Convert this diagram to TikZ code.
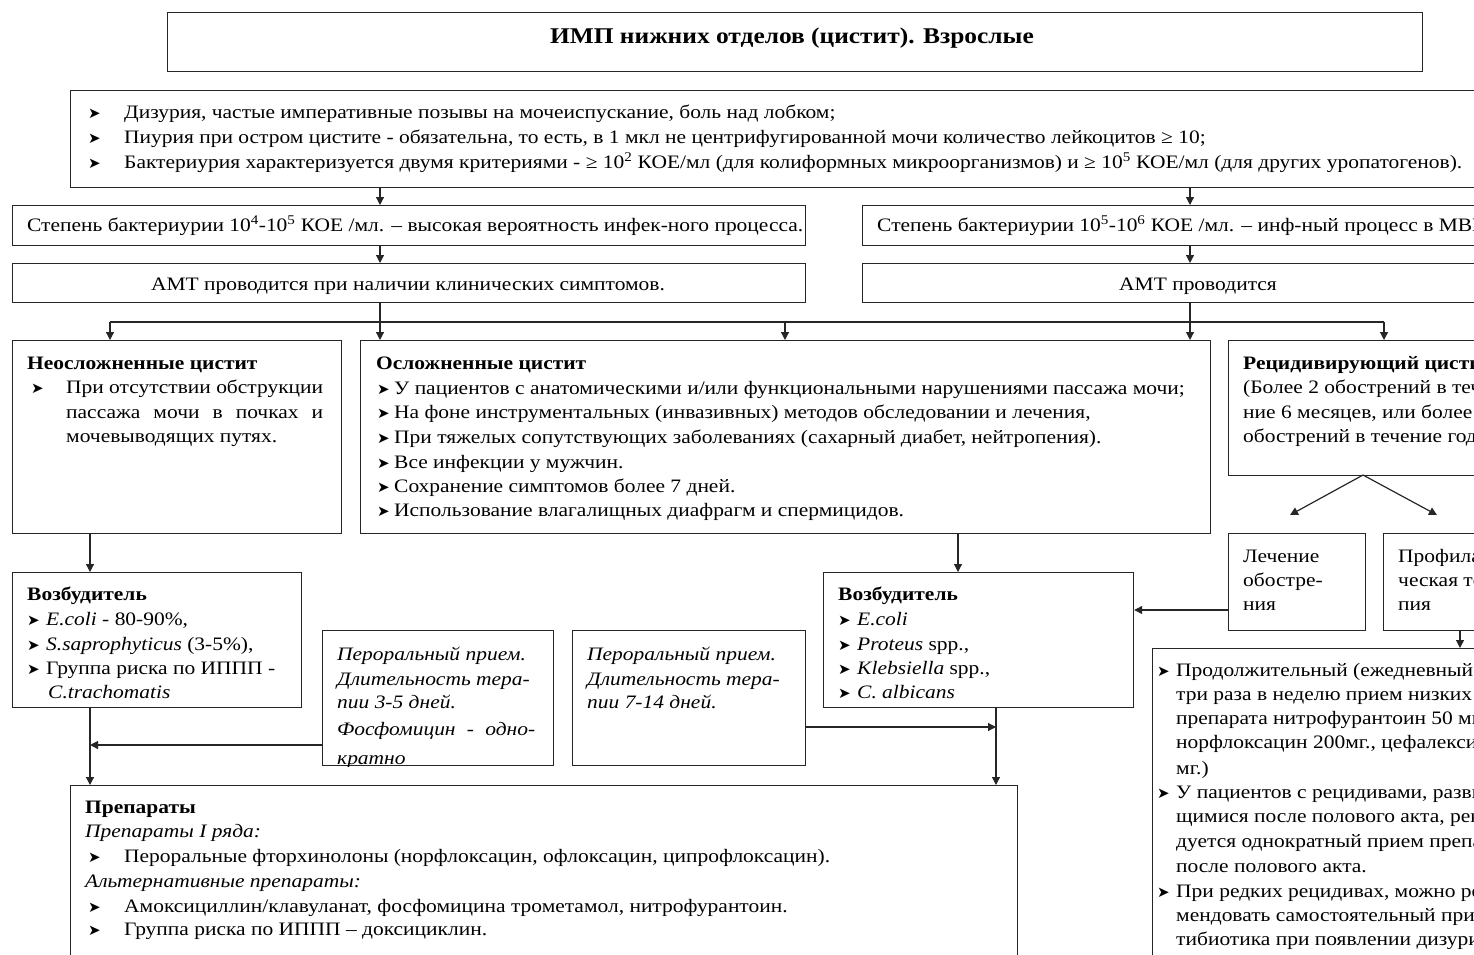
\documentclass[tikz,border=0pt]{standalone}
\usepackage{fontspec}
\setmainfont{Liberation Serif}[FakeStretch=1.13]
\newfontfamily\symfont{DejaVu Sans}
\usetikzlibrary{arrows.meta}
\newcommand\bul{{\symfont\fontsize{15}{15}\selectfont ➤}}
\newcommand\bodyfont{\fontsize{19}{23}\selectfont}
\newcommand\titlefont{\fontsize{22.5}{26}\selectfont\bfseries}

\begin{document}
\begin{tikzpicture}[x=1pt,y=-1pt,
  box/.style={draw=black!85, line width=1.2pt, fill=white, anchor=north west, inner sep=0pt},
  txt/.style={inner sep=0pt, anchor=west, text height=14pt, text depth=4pt, font=\bodyfont},
  ctxt/.style={txt, anchor=center},
  ln/.style={draw=black!85, line width=1.2pt},
  arr/.style={ln, -{Triangle[length=8pt,width=8pt]}}]
\useasboundingbox (0,0) rectangle (1474,954);
\clip (0,0) rectangle (1474,954);

% ---------- boxes ----------
\node[box, minimum width=1255, minimum height=59]  (title) at (167,12)  {};
\node[box, minimum width=1450, minimum height=97]  (crit)  at (70,90)   {};
\node[box, minimum width=793,  minimum height=40]  (s3l)   at (12,205)  {};
\node[box, minimum width=660,  minimum height=40]  (s3r)   at (862,205) {};
\node[box, minimum width=793,  minimum height=39]  (s4l)   at (12,263)  {};
\node[box, minimum width=660,  minimum height=39]  (s4r)   at (862,263) {};
\node[box, minimum width=329,  minimum height=193] (unc)   at (12,340)  {};
\node[box, minimum width=850,  minimum height=193] (cmp)   at (360,340) {};
\node[box, minimum width=300,  minimum height=135] (rec)   at (1228,340) {};
\node[box, minimum width=137,  minimum height=97]  (trt)   at (1228,533) {};
\node[box, minimum width=140,  minimum height=97]  (prf)   at (1383,533) {};
\node[box, minimum width=289,  minimum height=135] (pa)    at (12,572)  {};
\node[box, minimum width=310,  minimum height=135] (pb)    at (823,572) {};
\node[box, minimum width=231,  minimum height=135] (or1)   at (322,630) {};
\node[box, minimum width=233,  minimum height=135] (or2)   at (572,630) {};
\node[box, minimum width=947,  minimum height=200] (drg)   at (70,785)  {};
\node[box, minimum width=370,  minimum height=330] (prv)   at (1152,648) {};

% ---------- texts ----------
\node[ctxt, font=\titlefont] (ttl) at (792,38) {ИМП нижних отделов (цистит). Взрослые};

\foreach \y/\t [count=\i] in {
  113/{Дизурия, частые императивные позывы на мочеиспускание, боль над лобком;},
  138/{Пиурия при остром цистите - обязательна, то есть, в 1 мкл не центрифугированной мочи количество лейкоцитов ≥ 10;},
  163/{Бактериурия характеризуется двумя критериями - ≥ 10\textsuperscript{2} КОЕ/мл (для колиформных микроорганизмов) и ≥ 10\textsuperscript{5} КОЕ/мл (для других уропатогенов).}}
  \node[txt] (crit\i) at (88,\y) {\makebox[36pt][l]{\bul}\t};

\node[txt] (s3lt) at (27,226) {Степень бактериурии 10\textsuperscript{4}-10\textsuperscript{5} КОЕ /мл. – высокая вероятность инфек-ного процесса.};
\node[txt] (s3rt) at (877,226) {Степень бактериурии 10\textsuperscript{5}-10\textsuperscript{6} КОЕ /мл. – инф-ный процесс в МВП.};
\node[ctxt] (s4lt) at (408,285) {АМТ проводится при наличии клинических симптомов.};
\node[ctxt] (s4rt) at (1198,285) {АМТ проводится};

% uncomplicated
\node[txt, font=\bodyfont\bfseries] (unch) at (27,364) {Неосложненные цистит};
\node[txt] (unb) at (31,388) {\bul};
\node[txt] (unc1) at (66,388) {\makebox[257pt][s]{При отсутствии обструкции}};
\node[txt] (unc2) at (66,413) {\makebox[257pt][s]{пассажа мочи в почках и}};
\node[txt] (unc3) at (66,437) {мочевыводящих путях.};

% complicated
\node[txt, font=\bodyfont\bfseries] (cmph) at (376,364) {Осложненные цистит};
\foreach \y/\t [count=\i] in {
  389/{У пациентов с анатомическими и/или функциональными нарушениями пассажа мочи;},
  413/{На фоне инструментальных (инвазивных) методов обследовании и лечения,},
  438/{При тяжелых сопутствующих заболеваниях (сахарный диабет, нейтропения).},
  463/{Все инфекции у мужчин.},
  487/{Сохранение симптомов более 7 дней.},
  511/{Использование влагалищных диафрагм и спермицидов.}}
  \node[txt] (cmp\i) at (377,\y) {\makebox[17pt][l]{\bul}\t};

% recurrent
\node[txt, font=\bodyfont\bfseries] (rech) at (1243,364) {Рецидивирующий цистит};
\foreach \y/\t [count=\i] in {388/{(Более 2 обострений в тече-}, 413/{ние 6 месяцев, или более 3}, 437/{обострений в течение года)}}
  \node[txt] (rec\i) at (1243,\y) {\t};

\foreach \y/\t [count=\i] in {557/{Лечение}, 581/{обостре-}, 605/{ния}}
  \node[txt] (trt\i) at (1243,\y) {\t};
\foreach \y/\t [count=\i] in {557/{Профилакти-}, 581/{ческая тера-}, 605/{пия}}
  \node[txt] (prf\i) at (1398,\y) {\t};

% pathogens, uncomplicated
\node[txt, font=\bodyfont\bfseries] (pah) at (27,595) {Возбудитель};
\foreach \y/\t [count=\i] in {
  620/{\textit{E.coli} - 80-90\%,},
  645/{\textit{S.saprophyticus} (3-5\%),},
  669/{Группа риска по ИППП -}}
  \node[txt] (pa\i) at (27,\y) {\makebox[19pt][l]{\bul}\t};
\node[txt] (pa4) at (48,693) {\textit{C.trachomatis}};

% pathogens, complicated
\node[txt, font=\bodyfont\bfseries] (pbh) at (838,595) {Возбудитель};
\foreach \y/\t [count=\i] in {
  620/{\textit{E.coli}},
  645/{\textit{Proteus} spp.,},
  669/{\textit{Klebsiella} spp.,},
  693/{\textit{C. albicans}}}
  \node[txt] (pb\i) at (838,\y) {\makebox[19pt][l]{\bul}\t};

% oral regimens
\begin{scope}
  \clip (or1.north west) rectangle (or1.south east);
  \foreach \y/\t [count=\i] in {655/{Пероральный прием.}, 680/{Длительность тера-}, 703/{пии 3-5 дней.},
      730/{\makebox[198pt][s]{Фосфомицин - одно-}}, 759/{кратно}}
    \node[txt, font=\bodyfont\itshape] (or1\i) at (337,\y) {\t};
\end{scope}
\foreach \y/\t [count=\i] in {655/{Пероральный прием.}, 680/{Длительность тера-}, 703/{пии 7-14 дней.}}
  \node[txt, font=\bodyfont\itshape] (or2\i) at (587,\y) {\t};

% drugs
\node[txt, font=\bodyfont\bfseries] (drgh) at (85,808) {Препараты};
\node[txt, font=\bodyfont\itshape] (drg1) at (85,832) {Препараты I ряда:};
\node[txt] (drg2) at (88,857) {\makebox[36pt][l]{\bul}Пероральные фторхинолоны (норфлоксацин, офлоксацин, ципрофлоксацин).};
\node[txt, font=\bodyfont\itshape] (drg3) at (85,882) {Альтернативные препараты:};
\node[txt] (drg4) at (88,907) {\makebox[36pt][l]{\bul}Амоксициллин/клавуланат, фосфомицина трометамол, нитрофурантоин.};
\node[txt] (drg5) at (88,930) {\makebox[36pt][l]{\bul}Группа риска по ИППП – доксициклин.};

% prevention
\foreach \y/\t [count=\i] in {
  671/{\makebox[19pt][l]{\bul}Продолжительный (ежедневный или},
  695/{\hspace*{19pt}три раза в неделю прием низких доз},
  719/{\hspace*{19pt}препарата нитрофурантоин 50 мг.,},
  743/{\hspace*{19pt}норфлоксацин 200мг., цефалексин 250},
  769/{\hspace*{19pt}мг.)},
  793/{\makebox[19pt][l]{\bul}У пациентов с рецидивами, развиваю-},
  817/{\hspace*{19pt}щимися после полового акта, рекомен-},
  842/{\hspace*{19pt}дуется однократный прием препарата},
  867/{\hspace*{19pt}после полового акта.},
  892/{\makebox[19pt][l]{\bul}При редких рецидивах, можно реко-},
  916/{\hspace*{19pt}мендовать самостоятельный прием ан-},
  940/{\hspace*{19pt}тибиотика при появлении дизурии}}
  \node[txt] (prv\i) at (1157,\y) {\t};

% ---------- connectors ----------
\coordinate (x90) at (90,0);
\coordinate (x380) at (380,0);
\coordinate (x785) at (785,0);
\coordinate (x958) at (958,0);
\coordinate (x996) at (996,0);
\coordinate (x1190) at (1190,0);
\coordinate (x1460) at (1460,0);
\coordinate (y610) at (0,610);
\coordinate (y727) at (0,727);
\coordinate (y745) at (0,745);
\coordinate (busL) at (110,322);
\coordinate (busR) at (1384,322);
\coordinate (fork) at (1363,475);
\coordinate (tipA) at (1290,515);
\coordinate (tipB) at (1437,515);

\draw[arr] (crit.south -| x380) -- (s3l.north -| x380);
\draw[arr] (crit.south -| x1190) -- (s3r.north -| x1190);
\draw[arr] (s3l.south -| x380) -- (s4l.north -| x380);
\draw[arr] (s3r.south -| x1190) -- (s4r.north -| x1190);
\draw[ln] (s4l.south -| x380) -- (busL -| x380);
\draw[ln] (s4r.south -| x1190) -- (busL -| x1190);
\draw[ln] (busL) -- (busR);
\draw[arr] (busL) -- (unc.north -| busL);
\draw[arr] (busL -| x380) -- (cmp.north -| x380);
\draw[arr] (busL -| x785) -- (cmp.north -| x785);
\draw[arr] (busL -| x1190) -- (cmp.north -| x1190);
\draw[arr] (busR) -- (rec.north -| busR);

\draw[arr] (fork) -- (tipA);
\draw[arr] (fork) -- (tipB);

\draw[arr] (unc.south -| x90) -- (pa.north -| x90);
\draw[arr] (cmp.south -| x958) -- (pb.north -| x958);
\draw[arr] (trt.west |- y610) -- (pb.east |- y610);
\draw[arr] (prf.south -| x1460) -- (prv.north -| x1460);

\draw[arr] (pa.south -| x90) -- (drg.north -| x90);
\draw[arr] (or1.west |- y745) -- (x90 |- y745);
\draw[arr] (pb.south -| x996) -- (drg.north -| x996);
\draw[arr] (or2.east |- y727) -- (x996 |- y727);
\end{tikzpicture}
\end{document}
